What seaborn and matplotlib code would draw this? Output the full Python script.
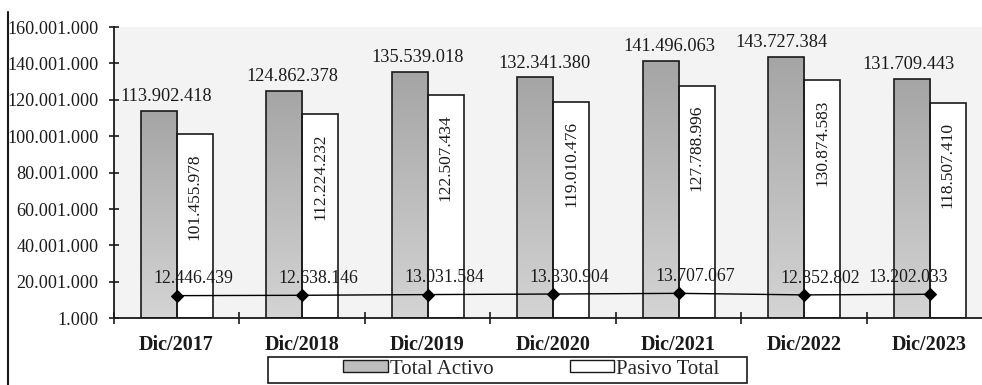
import numpy as np
import pandas as pd
import matplotlib
matplotlib.use("Agg")
import matplotlib.pyplot as plt
from matplotlib.patches import Patch, Rectangle
from matplotlib.lines import Line2D
import seaborn as sns

# ---- data ----
periods = ["Dic/2017", "Dic/2018", "Dic/2019", "Dic/2020", "Dic/2021", "Dic/2022", "Dic/2023"]
total_activo = [113902418, 124862378, 135539018, 132341380, 141496063, 143727384, 131709443]
pasivo_total = [101455978, 112224232, 122507434, 119010476, 127788996, 130874583, 118507410]
patrimonio = [12446439, 12638146, 13031584, 13330904, 13707067, 12852802, 13202033]
series_names = ["Total Activo", "Pasivo Total"]
y_ticks = [1000, 20001000, 40001000, 60001000, 80001000, 100001000, 120001000, 140001000, 160001000]


def fmt(v):
    return f"{v:,}".replace(",", ".")


sns.set_theme(style="white")
plt.rcParams["font.family"] = ["Liberation Serif", "DejaVu Serif"]

W, H, DPI = 982, 385, 100
fig = plt.figure(figsize=(W / DPI, H / DPI), dpi=DPI)
ax_left, ax_bottom, ax_top = 113.8, 318.3, 27.0
unit_px = 125.5
ax_right = ax_left + 7 * unit_px
ax = fig.add_axes([ax_left / W, (H - ax_bottom) / H,
                   (ax_right - ax_left) / W, (ax_bottom - ax_top) / H])
ax.set_facecolor("#f3f3f3")

df = pd.DataFrame({
    "periodo": periods * 2,
    "serie": [series_names[0]] * len(periods) + [series_names[1]] * len(periods),
    "valor": total_activo + pasivo_total,
})

sns.barplot(data=df, x="periodo", y="valor", hue="serie", order=periods,
            hue_order=series_names, palette=["#b5b5b5", "white"],
            width=0.574, edgecolor="#1a1a1a", linewidth=1.2, ax=ax,
            legend=False, saturation=1)

sns.pointplot(x=periods, y=patrimonio, order=periods, color="black",
              markers="D", markersize=6.5, linewidth=1.0, ax=ax)

ax.set_xlim(-0.5, 6.5)
ax.set_ylim(y_ticks[0], y_ticks[-1])

# vertical gradient fill for the Total Activo bars
grad = np.linspace(0, 1, 256).reshape(-1, 1)
cmap = matplotlib.colors.LinearSegmentedColormap.from_list("g", ["#d4d4d4", "#a5a5a5"])
activo_bars = ax.containers[0]
for p in activo_bars.patches:
    x0, y0 = p.get_x(), p.get_y()
    w, h = p.get_width(), p.get_height()
    im = ax.imshow(grad, cmap=cmap, aspect="auto", origin="lower",
                   extent=[x0, x0 + w, y0, y0 + h], zorder=0.9, interpolation="bilinear")
    im.set_clip_path(p)
    p.set_facecolor("none")
    p.set_zorder(1.1)
ax.set_xlim(-0.5, 6.5)
ax.set_ylim(y_ticks[0], y_ticks[-1])

# value labels
activo_dx = [8, 8, 8, 9, 9, -5, -3]
for i, (bar, v) in enumerate(zip(activo_bars.patches, total_activo)):
    ax.annotate(fmt(v), (bar.get_x() + bar.get_width() / 2, v),
                xytext=(activo_dx[i] * 0.72, 4), textcoords="offset points",
                ha="center", va="bottom", fontsize=13.2, color="#1a1a1a")

for bar, v in zip(ax.containers[1].patches, pasivo_total):
    ax.annotate(fmt(v), (bar.get_x() + bar.get_width() / 2, v),
                xytext=(0, -14), textcoords="offset points",
                ha="center", va="top", rotation=90, fontsize=12.5, color="#1a1a1a")

for i, v in enumerate(patrimonio):
    dx = 12 if i < len(patrimonio) - 1 else -15
    ax.annotate(fmt(v), (i, v), xytext=(dx, 6), textcoords="offset points",
                ha="center", va="bottom", fontsize=12.8, color="#1a1a1a", zorder=5)

# axes styling
for s in ["top", "right"]:
    ax.spines[s].set_visible(False)
for s in ["left", "bottom"]:
    ax.spines[s].set_color("#1a1a1a")
    ax.spines[s].set_linewidth(1.3)

ax.set_yticks(y_ticks)
ax.set_yticklabels([fmt(t) for t in y_ticks], fontsize=13.1, color="#1a1a1a")
ax.tick_params(axis="y", direction="inout", length=6.5, width=1.2, pad=7.5,
               left=True, color="#1a1a1a")

ax.set_xticks(range(len(periods)))
ax.set_xticklabels(periods, fontsize=14.5, fontweight="bold", color="#1a1a1a")
ax.set_xticks(np.arange(-0.5, 7.0, 1.0), minor=True)
ax.tick_params(axis="x", which="major", length=0, pad=12)
ax.tick_params(axis="x", which="minor", direction="inout", length=8.6, width=1.2,
               bottom=True, color="#1a1a1a")
ax.set_xlabel("")
ax.set_ylabel("")

# left border line of the figure
fig.add_artist(Line2D([8.3 / W, 8.3 / W], [0, (H - 12) / H], color="#1a1a1a", linewidth=1.5))

# legend with boxed frame
fig.add_artist(Rectangle((268 / W, (H - 383.3) / H), 479 / W, 26 / H,
                         transform=fig.transFigure, facecolor="white",
                         edgecolor="#1a1a1a", linewidth=1.2))
handles = [Patch(facecolor="#bdbdbd", edgecolor="#1a1a1a", linewidth=1.0),
           Patch(facecolor="white", edgecolor="#1a1a1a", linewidth=1.0)]
fig.legend(handles, series_names, loc="center left", ncol=2,
           bbox_to_anchor=(343 / W, (H - 369) / H), frameon=False,
           fontsize=15, handlelength=2.15, handleheight=0.48, handletextpad=0.1,
           columnspacing=3.65, borderpad=0, borderaxespad=0)

fig.savefig("out.png", dpi=DPI)
